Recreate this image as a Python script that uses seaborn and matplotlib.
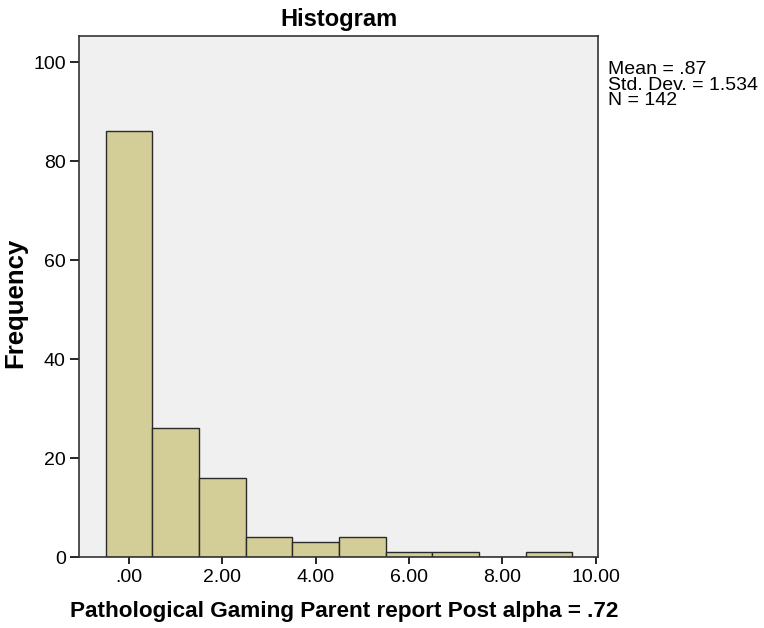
import matplotlib
matplotlib.use("Agg")
import matplotlib.pyplot as plt
import seaborn as sns
import numpy as np
import pandas as pd

# Data
bin_centers = [0, 1, 2, 3, 4, 5, 6, 7, 8, 9]
counts = [86, 26, 16, 4, 3, 4, 1, 1, 0, 1]
x_ticks = [0, 2, 4, 6, 8, 10]
x_tick_labels = [".00", "2.00", "4.00", "6.00", "8.00", "10.00"]
y_ticks = [0, 20, 40, 60, 80, 100]
title = "Histogram"
x_label = "Pathological Gaming Parent report Post alpha = .72"
y_label = "Frequency"
stats_lines = ["Mean = .87", "Std. Dev. = 1.534", "N = 142"]

df = pd.DataFrame({"value": bin_centers, "count": counts})

sns.set_style("white")
plt.rcParams['font.family'] = ['Liberation Sans', 'DejaVu Sans']
plt.rcParams['text.color'] = 'black'
plt.rcParams['axes.labelcolor'] = 'black'
plt.rcParams['xtick.color'] = 'black'
plt.rcParams['ytick.color'] = 'black'

W, H = 764, 628
fig = plt.figure(figsize=(W / 100, H / 100), dpi=100)
ax = fig.add_axes([79 / W, 1 - 557 / H, 519 / W, 521 / H])
ax.set_facecolor("#F0F0F0")

edges = list(np.arange(-0.5, 10.0, 1.0))
sns.histplot(data=df, x="value", weights="count", bins=edges, ax=ax,
             color="#D3CE97", edgecolor="#2a2a2a", linewidth=1.0, alpha=1.0)

ax.set_xlim(-1.07, 10.05)
ax.set_ylim(0, 105.3)
ax.set_xticks(x_ticks)
ax.set_xticklabels(x_tick_labels)
ax.set_yticks(y_ticks)
ax.tick_params(axis='x', direction='out', length=5, width=1.2, colors='black',
               labelsize=14, pad=4, bottom=True)
ax.tick_params(axis='y', direction='out', length=6.5, width=1.2, colors='black',
               labelsize=14, pad=3, left=True)
for s in ax.spines.values():
    s.set_color("#333333")
    s.set_linewidth(1.2)

ax.set_title(title, fontsize=17, fontweight='bold', pad=7, color='black')
ax.set_xlabel(x_label, fontsize=16.2, fontweight='bold', color='black')
ax.set_ylabel(y_label, fontsize=18.5, fontweight='bold', color='black')
ax.xaxis.set_label_coords((344 - 79) / 519, (557 - 601) / 521)
ax.yaxis.set_label_coords((27 - 79) / 519, (557 - 303) / 521)

for i, line in enumerate(stats_lines):
    fig.text(608 / W, 1 - (74 + 15.5 * i) / H, line, fontsize=14,
             va='baseline', ha='left', color='black')

fig.savefig("out.png", dpi=100)
